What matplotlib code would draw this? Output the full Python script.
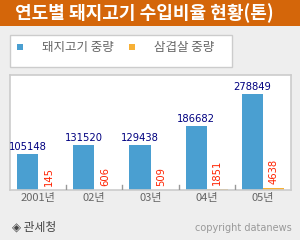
import matplotlib
matplotlib.use("Agg")
import matplotlib.pyplot as plt
from matplotlib.patches import Rectangle
import numpy as np

plt.rcParams['font.family'] = ['Noto Sans CJK KR', 'DejaVu Sans']

title = "연도별 돼지고기 수입비율 현황(톤)"
categories = ["2001년", "02년", "03년", "04년", "05년"]
series_names = ["돼지고기 중량", "삼겹살 중량"]
pork = [105148, 131520, 129438, 186682, 278849]
belly = [145, 606, 509, 1851, 4638]
source = "◈ 관세청"
credit = "copyright datanews"

W, H = 300, 240
fig = plt.figure(figsize=(W / 100, H / 100), dpi=100)
fig.patch.set_facecolor('#EEEEEE')

def px(x, y, w, h):
    return [x / W, 1 - (y + h) / H, w / W, h / H]

# Title bar
fig.patches.append(Rectangle((0, 1 - 26 / H), 1, 26 / H, transform=fig.transFigure,
                             facecolor='#D4660A', edgecolor='none', zorder=0))
fig.text(144 / W, 1 - 13.5 / H, title, color='white', fontsize=13, fontweight='bold',
         ha='center', va='center')

# Legend box
fig.patches.append(Rectangle((10 / W, 1 - 67 / H), 222 / W, 32 / H, transform=fig.transFigure,
                             facecolor='white', edgecolor='#CCCCCC', linewidth=1, zorder=1))
blue = '#4A9FD1'
orange = '#F7B035'
for i, (name, col) in enumerate(zip(series_names, [blue, orange])):
    x0 = [17, 129][i]
    fig.patches.append(Rectangle((x0 / W, 1 - 50 / H), 6 / W, 6 / H, transform=fig.transFigure,
                                 facecolor=col, edgecolor='none', zorder=2))
    fig.text([42, 154][i] / W, 1 - 48 / H, name, color='#666666', fontsize=9,
             ha='left', va='center', zorder=3)

# Plot area
ax = fig.add_axes(px(10, 75, 281, 115))
ax.set_facecolor('white')
x = np.arange(len(categories))
bw = 0.375
ax.bar(x - bw / 2, pork, width=bw, color=blue, zorder=2)
ax.bar(x + bw / 2, belly, width=bw, color=orange, zorder=2)
ax.set_xlim(-0.5, len(categories) - 0.5)
ax.set_ylim(0, 334000)
for xi, v in zip(x, pork):
    ax.annotate(str(v), (xi - bw / 2, v), xytext=(0, 1.5), textcoords='offset points',
                ha='center', va='bottom', color='#000080', fontsize=7.2,
                family='DejaVu Sans')
for xi, v in zip(x, belly):
    ax.annotate(str(v), (xi + bw / 2, v), xytext=(0, 3), textcoords='offset points',
                ha='center', va='bottom', color='#FF2200', fontsize=7.2, rotation=90,
                family='DejaVu Sans')

for s in ['top', 'right', 'left', 'bottom']:
    ax.spines[s].set_color('#CCCCCC')
    ax.spines[s].set_linewidth(1.2)
ax.set_yticks([])
ax.set_xticks(x)
ax.set_xticklabels(categories, color='#666666', fontsize=8)
ax.tick_params(axis='x', length=0, pad=2)
for b in x[:-1] + 0.5:
    ax.plot([b, b], [0, 334000 * 5 / 115], color='#999999', linewidth=1, zorder=3)

# Footer
fig.text(12 / W, 1 - 227 / H, source, color='#444444', fontsize=8.5, ha='left', va='center')
fig.text(292 / W, 1 - 228 / H, credit, color='#999999', fontsize=7, ha='right', va='center',
         family='DejaVu Sans')

fig.savefig('out.png', dpi=100, facecolor=fig.get_facecolor())
